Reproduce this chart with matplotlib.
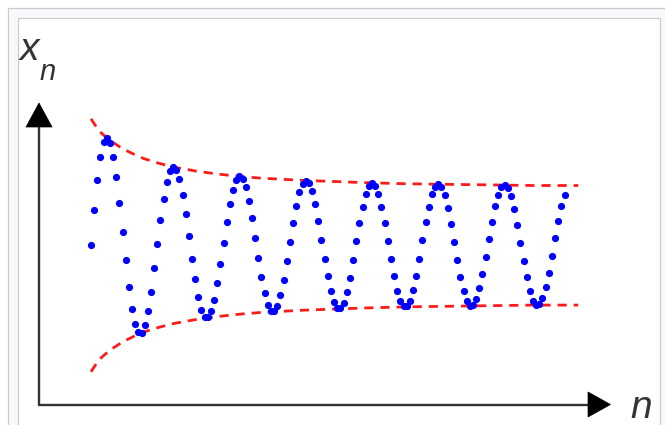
import numpy as np
import matplotlib
matplotlib.use("Agg")
import matplotlib.pyplot as plt
from matplotlib.patches import Polygon, Rectangle

# ---- data ----
x_n = [
    0.00, 0.62, 1.14, 1.54, 1.79, 1.87, 1.78, 1.54, 1.18, 0.73,
    0.24, -0.26, -0.72, -1.10, -1.37, -1.51, -1.52, -1.39, -1.15, -0.81,
    -0.40, 0.02, 0.44, 0.81, 1.10, 1.29, 1.36, 1.31, 1.15, 0.88,
    0.54, 0.16, -0.23, -0.59, -0.90, -1.12, -1.24, -1.25, -1.15, -0.95,
    -0.66, -0.32, 0.04, 0.40, 0.72, 0.97, 1.14, 1.20, 1.15, 1.01,
    0.77, 0.47, 0.13, -0.22, -0.55, -0.83, -1.03, -1.14, -1.14, -1.05,
    -0.86, -0.60, -0.28, 0.06, 0.39, 0.69, 0.92, 1.07, 1.12, 1.08,
    0.94, 0.71, 0.43, 0.10, -0.23, -0.54, -0.80, -0.99, -1.09, -1.09,
    -1.00, -0.81, -0.56, -0.25, 0.07, 0.39, 0.67, 0.90, 1.04, 1.08,
    1.04, 0.90, 0.67, 0.39, 0.08, -0.24, -0.54, -0.79, -0.97, -1.06,
    -1.06, -0.96, -0.78, -0.53, -0.23, 0.09, 0.40, 0.67, 0.89, 1.02,
    1.06, 1.01, 0.87, 0.65, 0.37, 0.06, -0.25, -0.55, -0.79, -0.96,
    -1.05, -1.04, -0.94, -0.75, -0.50, -0.21, 0.11, 0.41, 0.68, 0.88,
    1.01, 1.05, 0.99, 0.85, 0.63, 0.35, 0.04, -0.27, -0.55, -0.79,
    -0.96, -1.04, -1.02, -0.92, -0.73, -0.48, -0.19, 0.12, 0.42, 0.68,
    0.88,
]
step = 0.3  # spacing of the sequence index along the horizontal axis

env_t = [0, 0.5, 1, 1.5, 2, 3, 4, 5, 6, 7, 8, 10, 12, 14, 16, 18, 20,
         23, 26, 30, 34, 38, 42, 46.3]
env_upper = [2.20, 2.06, 1.95, 1.87, 1.80, 1.68, 1.59, 1.51, 1.45, 1.40,
             1.355, 1.29, 1.24, 1.20, 1.17, 1.15, 1.13, 1.11, 1.09, 1.07,
             1.06, 1.05, 1.04, 1.04]
env_lower = [-2.20, -2.06, -1.95, -1.87, -1.80, -1.68, -1.59, -1.51, -1.45,
             -1.40, -1.355, -1.29, -1.24, -1.20, -1.17, -1.15, -1.13, -1.11,
             -1.09, -1.07, -1.06, -1.05, -1.04, -1.04]

y_label = "x"
y_label_sub = "n"
x_label = "n"

# ---- figure ----
W, H = 665, 425
fig = plt.figure(figsize=(W / 100, H / 100), dpi=100)
fig.patch.set_facecolor("white")

# decoration layer in pixel coordinates
bg = fig.add_axes([0, 0, 1, 1])
bg.set_xlim(0, W)
bg.set_ylim(H, 0)
bg.axis("off")

bg.add_patch(Rectangle((8, 8), W, H, facecolor="#f8f9fa",
                       edgecolor="#c8ccd1", lw=0.9, zorder=0))
bg.add_patch(Rectangle((18, 18), 660 - 18, H, facecolor="white",
                       edgecolor="#c8ccd1", lw=0.9, zorder=1))

axis_col = "#333333"
bg.plot([39, 39], [405, 124], color=axis_col, lw=1.7,
        solid_capstyle="butt", zorder=3)
bg.plot([38, 590], [404.5, 404.5], color=axis_col, lw=1.7,
        solid_capstyle="butt", zorder=3)
bg.add_patch(Polygon([[39, 103], [26, 127], [52, 127]], closed=True,
                     facecolor="black", edgecolor="black", lw=0.5, zorder=4))
bg.add_patch(Polygon([[610.5, 404.5], [588, 392], [588, 417]], closed=True,
                     facecolor="black", edgecolor="black", lw=0.5, zorder=4))

font = dict(family=["Liberation Sans", "DejaVu Sans"], style="italic",
            color="#333333", va="baseline", ha="left", zorder=5)
bg.text(20, 60, y_label, fontsize=28, **font)
bg.text(40, 80, y_label_sub, fontsize=21, **font)
bg.text(630, 418, x_label, fontsize=28, **font)

# data layer
ax = fig.add_axes([0, 0, 1, 1])
ax.patch.set_alpha(0)
ax.axis("off")
px_per_x = 3.157 / step
x0_px = 91.0
ax.set_xlim((0 - x0_px) / px_per_x, (W - x0_px) / px_per_x)
y0_px = 245.3
px_per_y = 57.5
ax.set_ylim((y0_px - H) / px_per_y, y0_px / px_per_y)

dash = (0, (3.3, 2.5))
ax.plot(env_t, env_upper, color="#ff1a1a", lw=2.0, linestyle=dash, zorder=2)
ax.plot(env_t, env_lower, color="#ff1a1a", lw=2.0, linestyle=dash, zorder=2)

n = np.arange(len(x_n)) * step
ax.plot(n, x_n, linestyle="none", marker="o", ms=5.2, mew=0,
        color="#0000ff", zorder=3)

fig.savefig("out.png", dpi=100, facecolor="white")
